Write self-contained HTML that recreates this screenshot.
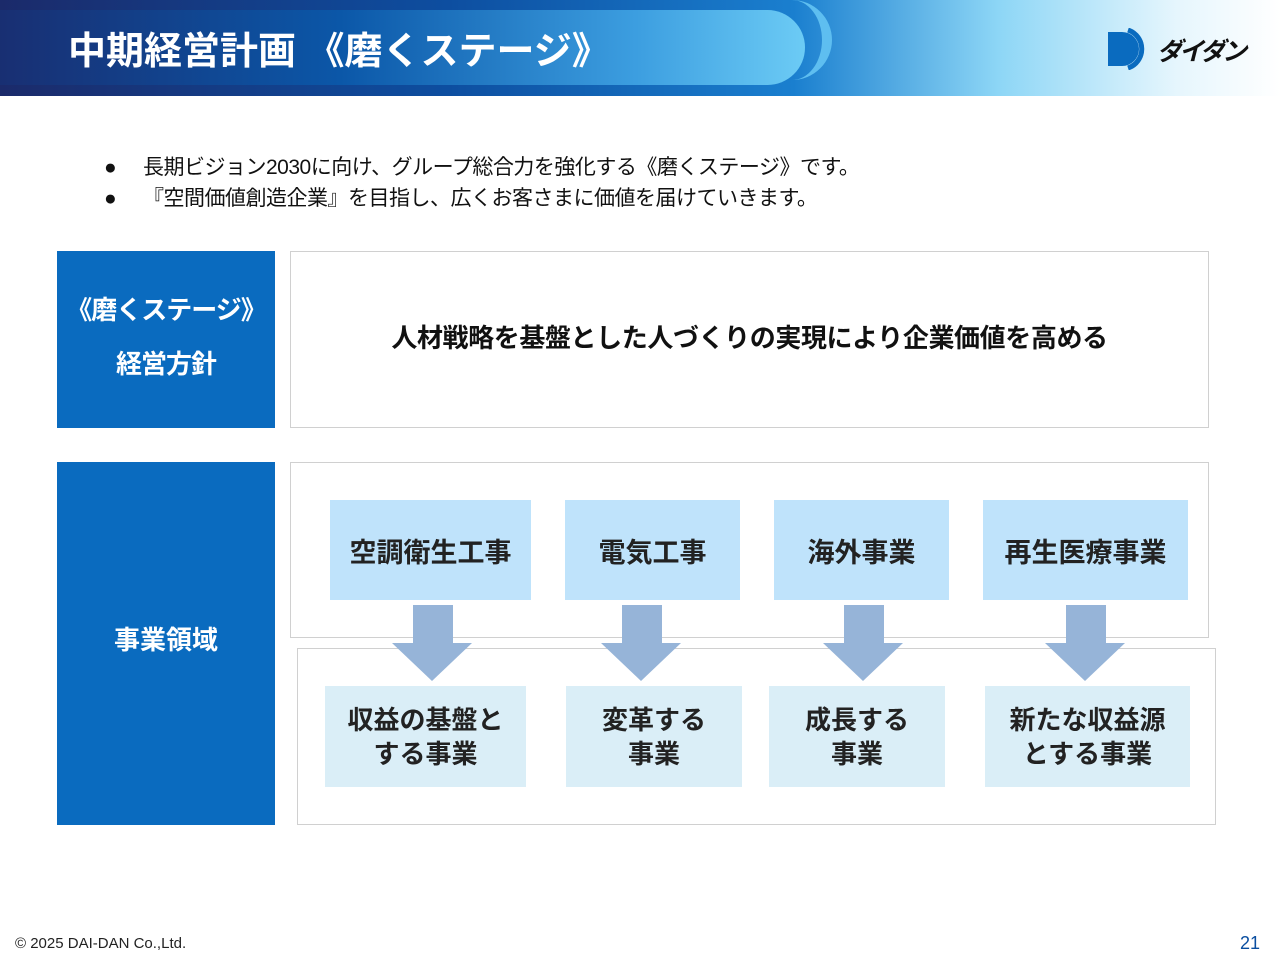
<!DOCTYPE html>
<html><head><meta charset="utf-8"><style>
*{margin:0;padding:0;box-sizing:border-box}
body{width:1280px;height:960px;background:#fff;position:relative;overflow:hidden;font-family:"Liberation Sans","Noto Sans CJK JP",sans-serif}
.a{position:absolute}
.hdr{left:0;top:0;width:1280px;height:96px;background:linear-gradient(90deg,#1b2a6a 0%,#0d4ea0 35%,#1a7fcf 62%,#8dd6f6 78%,#e6f6fd 92%,#fff 100%)}
.pill{left:-40px;top:10px;width:845px;height:75px;border-radius:0 40px 40px 0;background:linear-gradient(90deg,#1a2a6c 0%,#0b57a8 45%,#3c9ee0 80%,#6ccbf5 100%)}
.rim{left:760px;top:0;width:72px;height:80px;border-radius:0 40px 40px 0;border-right:10px solid #5ebef0;}
.ttl{left:68px;top:20px;color:#fff;font-size:38px;font-weight:bold;letter-spacing:0px}
.blue{background:#0a6bbf;color:#fff;font-weight:bold;font-size:26px;text-align:center}
.box{border:1.5px solid #d0d0d0;background:#fff}
.lb{background:#bfe3fb;font-size:27px;font-weight:bold;color:#222;display:flex;align-items:center;justify-content:center}
.pb{background:#daeef7;font-size:26px;font-weight:bold;color:#222;display:flex;align-items:center;justify-content:center;text-align:center;line-height:34px}
.sh{background:#96b4d8;width:40px;height:40px;top:605px}
.hd{width:0;height:0;border-left:40px solid transparent;border-right:40px solid transparent;border-top:38px solid #96b4d8;top:643px}
</style></head><body>
<div class="a hdr"></div>
<div class="a rim"></div>
<div class="a pill"></div>
<div class="a ttl">中期経営計画 《磨くステージ》</div>
<svg class="a" style="left:1106px;top:28px" width="50" height="42"><path d="M2 4 h14 a17 17 0 0 1 0 34 h-14z" fill="#0a6bbf"/><path d="M22 2 a20 20 0 0 1 0 38" stroke="#0a6bbf" stroke-width="5" fill="none"/></svg>
<div class="a" style="left:1157px;top:32px;font-size:25px;font-weight:bold;color:#111;font-style:italic;letter-spacing:-3px">ダイダン</div>

<div class="a" style="left:104px;top:152px;font-size:21px;color:#111;line-height:31px;letter-spacing:-0.5px"><span style="display:inline-block;width:39px">●</span>長期ビジョン2030に向け、グループ総合力を強化する《磨くステージ》です。<br><span style="display:inline-block;width:39px">●</span>『空間価値創造企業』を目指し、広くお客さまに価値を届けていきます。</div>

<div class="a blue" style="left:57px;top:251px;width:218px;height:177px;padding-top:32px;line-height:54px;letter-spacing:-1px">《磨くステージ》<br>経営方針</div>
<div class="a box" style="left:290px;top:251px;width:919px;height:177px"></div>
<div class="a" style="left:290px;top:318px;width:919px;text-align:center;font-size:26px;font-weight:bold;color:#111;letter-spacing:-0.4px">人材戦略を基盤とした人づくりの実現により企業価値を高める</div>

<div class="a blue" style="left:57px;top:462px;width:218px;height:363px;line-height:356px">事業領域</div>
<div class="a box" style="left:290px;top:462px;width:919px;height:176px"></div>
<div class="a box" style="left:297px;top:648px;width:919px;height:177px"></div>

<div class="a lb" style="left:330px;top:500px;width:201px;height:100px">空調衛生工事</div>
<div class="a lb" style="left:565px;top:500px;width:175px;height:100px">電気工事</div>
<div class="a lb" style="left:774px;top:500px;width:175px;height:100px">海外事業</div>
<div class="a lb" style="left:983px;top:500px;width:205px;height:100px">再生医療事業</div>

<div class="a sh" style="left:413px"></div><div class="a hd" style="left:392px"></div>
<div class="a sh" style="left:622px"></div><div class="a hd" style="left:601px"></div>
<div class="a sh" style="left:844px"></div><div class="a hd" style="left:823px"></div>
<div class="a sh" style="left:1066px"></div><div class="a hd" style="left:1045px"></div>

<div class="a pb" style="left:325px;top:686px;width:201px;height:101px">収益の基盤と<br>する事業</div>
<div class="a pb" style="left:566px;top:686px;width:176px;height:101px">変革する<br>事業</div>
<div class="a pb" style="left:769px;top:686px;width:176px;height:101px">成長する<br>事業</div>
<div class="a pb" style="left:985px;top:686px;width:205px;height:101px">新たな収益源<br>とする事業</div>

<div class="a" style="left:15px;top:935px;font-size:15px;color:#222">© 2025 DAI-DAN Co.,Ltd.</div>
<div class="a" style="left:1240px;top:933px;font-size:18px;color:#0a4ea0">21</div>
</body></html>
